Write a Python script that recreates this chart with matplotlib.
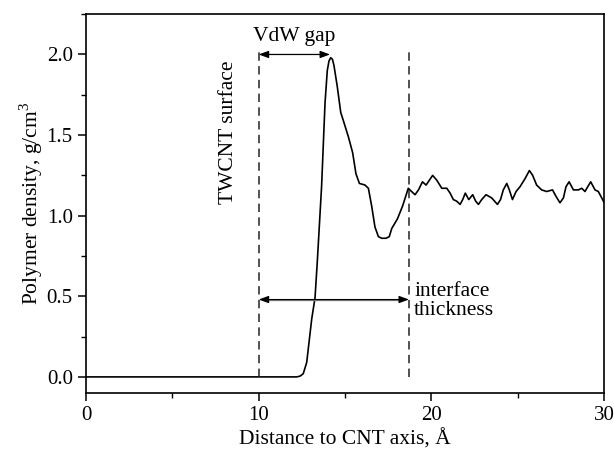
import matplotlib.pyplot as plt
from matplotlib.ticker import MultipleLocator

plt.rcParams['font.family'] = ['Liberation Serif', 'DejaVu Serif']
plt.rcParams['mathtext.fontset'] = 'custom'
plt.rcParams['mathtext.rm'] = 'Liberation Serif'

# density profile
distance = [0.0, 5.0, 10.0, 12.2, 12.4, 12.58, 12.78, 12.93, 13.07, 13.26, 13.39, 13.64,
            13.84, 13.97, 14.07, 14.17, 14.27, 14.36, 14.55, 14.75, 14.9, 15.19, 15.44,
            15.63, 15.83, 16.0, 16.15, 16.35, 16.54, 16.73, 16.93, 17.12, 17.37, 17.56,
            17.70, 18.03, 18.33, 18.66, 18.85, 19.05, 19.25, 19.48, 19.69, 19.88, 20.07,
            20.31, 20.6, 20.89, 21.08, 21.27, 21.46, 21.66, 21.81, 21.96, 22.16, 22.39,
            22.56, 22.72, 22.91, 23.16, 23.49, 23.82, 24.0, 24.16, 24.36, 24.51, 24.69,
            24.9, 25.13, 25.42, 25.67, 25.86, 26.09, 26.38, 26.67, 27.01, 27.21, 27.44,
            27.64, 27.79, 27.97, 28.22, 28.51, 28.7, 28.89, 29.05, 29.22, 29.47, 29.66,
            29.91, 30.0]
density = [0.0, 0.0, 0.0, 0.0, 0.005, 0.02, 0.09, 0.23, 0.36, 0.49, 0.71, 1.18,
           1.70, 1.90, 1.96, 1.98, 1.97, 1.93, 1.80, 1.64, 1.59, 1.49, 1.39,
           1.26, 1.20, 1.195, 1.19, 1.17, 1.06, 0.93, 0.87, 0.86, 0.86, 0.87,
           0.92, 0.98, 1.06, 1.17, 1.15, 1.13, 1.16, 1.21, 1.19, 1.22, 1.25,
           1.22, 1.17, 1.17, 1.14, 1.10, 1.09, 1.07, 1.10, 1.14, 1.10, 1.13,
           1.09, 1.07, 1.10, 1.13, 1.11, 1.07, 1.10, 1.16, 1.20, 1.16, 1.10,
           1.15, 1.18, 1.23, 1.28, 1.25, 1.19, 1.16, 1.15, 1.16, 1.12, 1.08,
           1.11, 1.18, 1.21, 1.16, 1.16, 1.17, 1.15, 1.18, 1.21, 1.16, 1.15,
           1.10, 1.08]

surface_x = 10.0
interface_x = 18.7
peak_x = 14.13

fig = plt.figure(figsize=(6.14, 4.57), dpi=100)
ax = fig.add_axes([0.140, 0.140, 0.844, 0.829])

ax.plot(distance, density, color='black', linewidth=1.2,
        solid_joinstyle='round', solid_capstyle='round')

# vertical dashed markers
ax.plot([surface_x, surface_x], [0.0, 2.03], color='#222222', linestyle=(0, (5.5, 3.5)), linewidth=1.1)
ax.plot([interface_x, interface_x], [0.0, 2.02], color='#222222', linestyle=(0, (5.5, 3.5)), linewidth=1.1)

# double arrows
for x0, x1, y in [(surface_x, peak_x, 2.0), (surface_x, interface_x, 0.48)]:
    ax.annotate('', xy=(x1, y), xytext=(x0, y),
                arrowprops=dict(arrowstyle='<|-|>,head_length=0.6,head_width=0.22',
                                color='black', lw=0.8, shrinkA=0, shrinkB=0))
    ax.plot([x0 + 0.5, x1 - 0.5], [y, y], color='#777777', linewidth=0.9)

ax.text((surface_x + peak_x) / 2, 2.05, 'VdW gap', fontsize=15.5, ha='center', va='bottom')
ax.text(interface_x + 0.3, 0.47, 'interface\nthickness', fontsize=15.5, ha='left', va='center',
        linespacing=1.0)
ax.text(8.25, 1.52, 'TWCNT surface', fontsize=15.5, rotation=90, ha='center', va='center')

ax.set_xlim(0, 30)
ax.set_ylim(-0.1, 2.25)
ax.xaxis.set_major_locator(MultipleLocator(10))
ax.xaxis.set_minor_locator(MultipleLocator(5))
ax.yaxis.set_major_locator(MultipleLocator(0.5))
ax.yaxis.set_minor_locator(MultipleLocator(0.25))
ax.yaxis.set_major_formatter(plt.FuncFormatter(lambda v, _: f'{v:.1f}'))

ax.tick_params(which='major', direction='out', length=6, width=1.1, labelsize=15)
ax.tick_params(which='minor', direction='out', length=3.5, width=1.0)
for s in ax.spines.values():
    s.set_linewidth(1.2)

ax.set_xlabel('Distance to CNT axis, Å', fontsize=15.5, labelpad=3)
ax.set_ylabel('Polymer density, g/cm$^3$', fontsize=15.5, labelpad=1)

plt.savefig('out.png', dpi=100)
